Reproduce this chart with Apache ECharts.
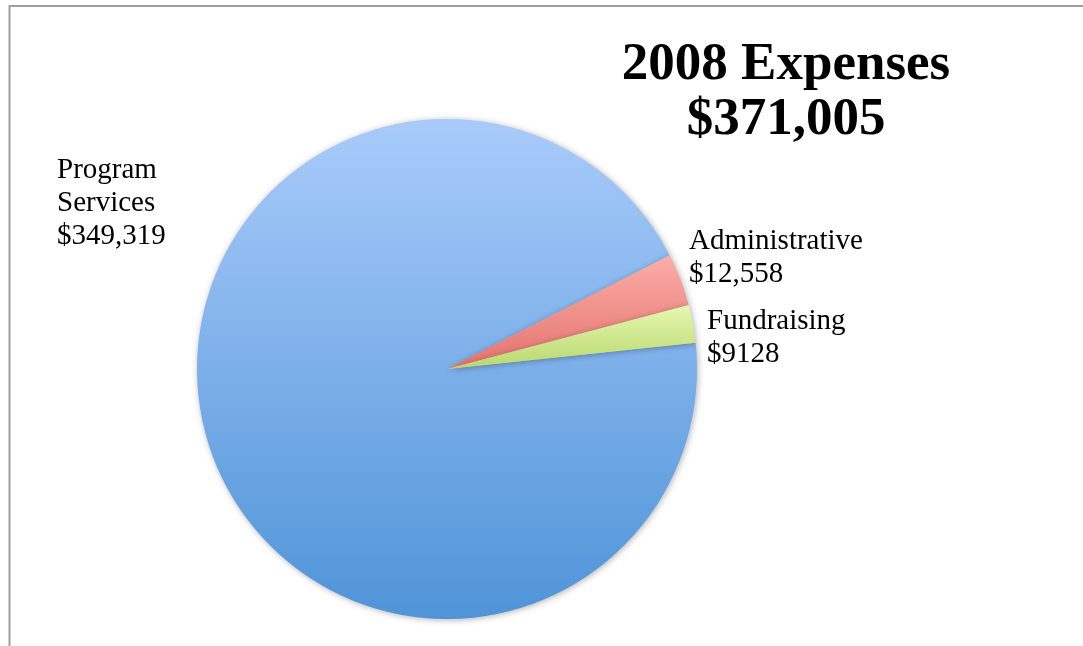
<!DOCTYPE html>
<html><head><meta charset="utf-8">
<script src="https://cdn.jsdelivr.net/npm/echarts@6/dist/echarts.min.js"></script>
<style>html,body{margin:0;padding:0;background:#fff}#c{width:1083px;height:646px}</style>
</head><body><div id="c"></div>
<script>
const categories = ['Program\nServices', 'Administrative', 'Fundraising'];
const valueLabels = ['$349,319', '$12,558', '$9128'];
const values = [349319, 12558, 9128];
const titleLines = ['2008 Expenses', '$371,005'];

const FONT = '"Liberation Serif", serif';
const colors = [
  {type:'linear', x:0, y:119, x2:0, y2:620, global:true, colorStops:[{offset:0,color:'#a9cbfa'},{offset:1,color:'#4f94d8'}]},
  {type:'linear', x:0, y:0, x2:0, y2:1, colorStops:[{offset:0,color:'#fbaea8'},{offset:1,color:'#e5736e'}]},
  {type:'linear', x:0, y:0, x2:0, y2:1, colorStops:[{offset:0,color:'#e6f8b0'},{offset:1,color:'#b9d86e'}]}
];
const labelPos = [[57,154],[689,225],[707,305]];

const chart = echarts.init(document.getElementById('c'), null, {renderer:'canvas'});
chart.setOption({
  animation:false,
  backgroundColor:'#fff',
  graphic:[{type:'rect', shape:{x:9.5,y:6,width:1100,height:700}, style:{fill:'none', stroke:'#a0a0a0', lineWidth:2}, silent:true}],
  title:{text:titleLines.join('\n'), left:781, top:33, textAlign:'center',
    textStyle:{fontFamily:FONT, fontWeight:'bold', fontSize:53, lineHeight:55, color:'#000'}},
  series:[{
    type:'pie', center:[447,369], radius:250, startAngle:6, clockwise:true,
    data: values.map((v,i)=>({value:v, name:categories[i], itemStyle:{color:colors[i]}})),
    itemStyle:{shadowBlur:6, shadowColor:'rgba(0,0,0,0.3)', shadowOffsetX:1, shadowOffsetY:1},
    label:{show:true, position:'outside', formatter:p=>p.name+'\n'+valueLabels[p.dataIndex],
      fontFamily:FONT, fontSize:29, lineHeight:33, color:'#000', align:'left'},
    labelLine:{show:false},
    labelLayout:p=>({x:labelPos[p.dataIndex][0], y:labelPos[p.dataIndex][1], align:'left', verticalAlign:'top'})
  }]
});
</script></body></html>
